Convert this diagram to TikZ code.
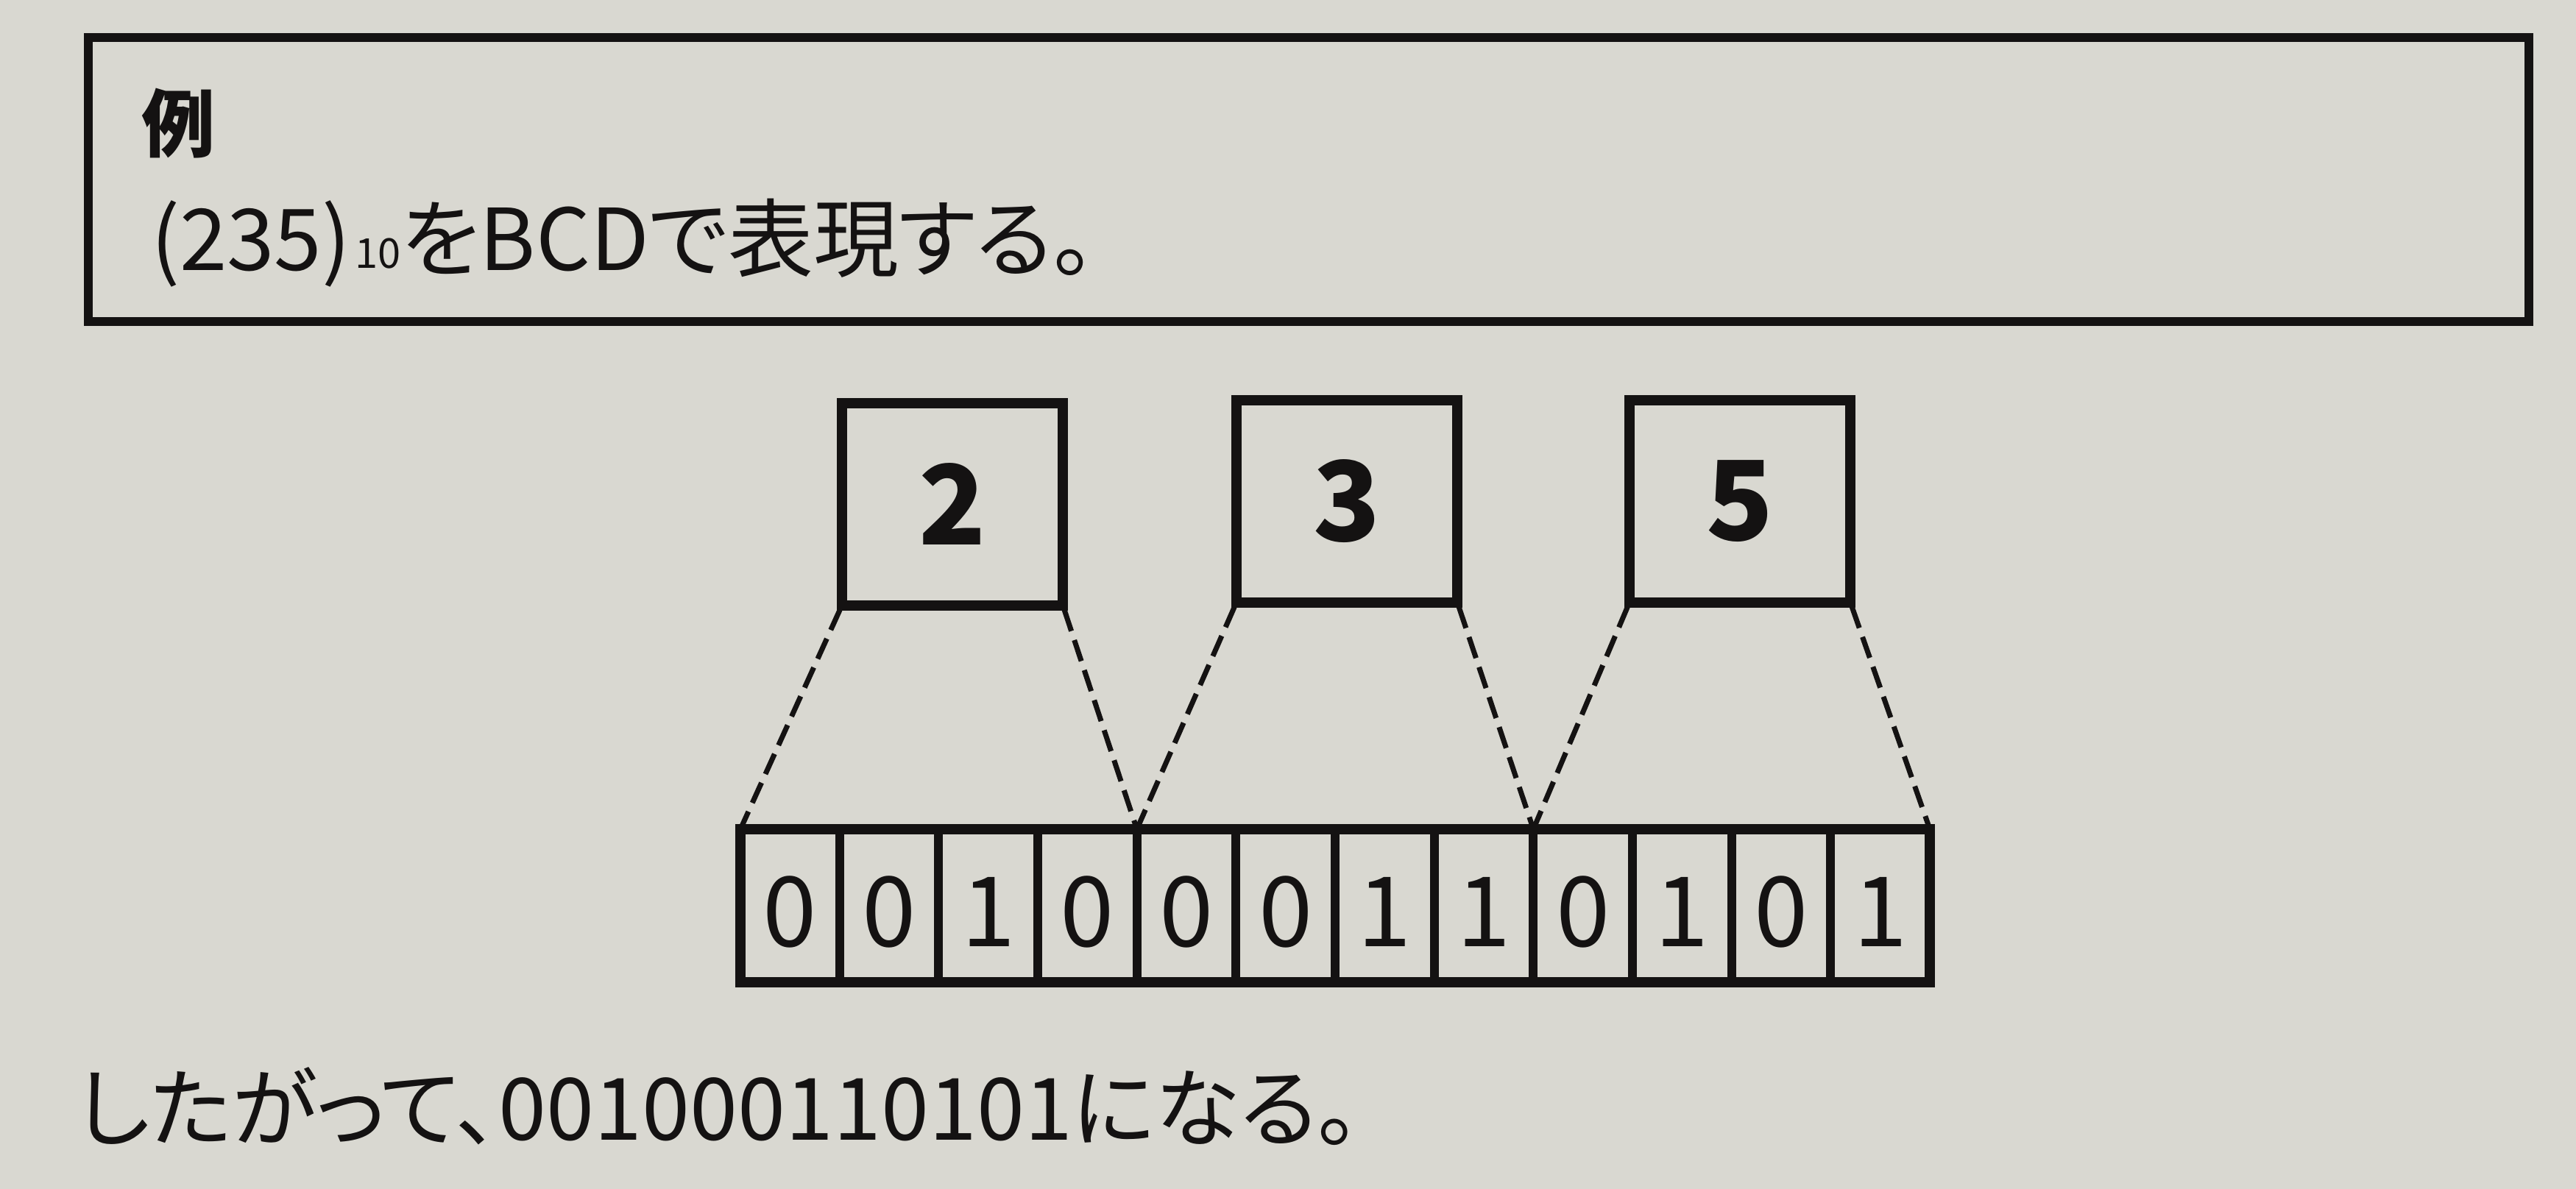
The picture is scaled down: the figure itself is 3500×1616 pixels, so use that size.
\documentclass[tikz,border=0pt]{standalone}
\usepackage{fontspec}
\setmainfont{Noto Sans CJK JP}
\newfontfamily\jpp[RawFeature=+palt]{Noto Sans CJK JP}
\definecolor{paper}{RGB}{217,216,209}
\definecolor{ink}{RGB}{20,18,18}
\tikzset{
  digitbox/.style={draw=ink, line width=14pt, minimum width=300pt, minimum height=275pt,
    inner sep=0pt, outer sep=0pt, text=ink, font=\fontsize{150}{150}\selectfont\bfseries},
  cell/.style={draw=ink, line width=12pt, minimum width=134.67pt, minimum height=208pt,
    inner sep=0pt, outer sep=0pt},
  bittext/.style={inner sep=0pt, text=ink, font=\fontsize{132}{132}\selectfont},
  dashlink/.style={draw=ink, line width=7pt, dash pattern=on 30pt off 13pt, shorten <=7pt},
  plain/.style={inner sep=0pt, outer sep=0pt, text=ink}
}
\begin{document}
\begin{tikzpicture}[x=1pt,y=-1pt]
\fill[paper] (0,0) rectangle (3500,1616);
\useasboundingbox (0,0) rectangle (3500,1616);
% example frame
\node[draw=ink, line width=12pt, minimum width=3316pt, minimum height=386pt, inner sep=0pt, outer sep=0pt] (frame) at (1778,244) {};
\node[plain, anchor=base west, font=\fontsize{100}{100}\selectfont\bfseries] (rei) at (192,206) {例};
\node[plain, anchor=base west, font=\fontsize{116}{116}\selectfont\jpp] (task) at (205,367)
  {(235)\hspace{6pt}\raisebox{3pt}{\fontsize{56}{56}\selectfont 10}をBCDで表現する。};
% decimal digit boxes
\node[digitbox] (b2) at (1294,685) {2};
\node[digitbox] (b3) at (1830,681) {3};
\node[digitbox] (b5) at (2364,681) {5};
% bit cells
\foreach \b [count=\i] in {0,0,1,0,0,0,1,1,0,1,0,1} {
  \node[cell] (c\i) at ({1006+134.67*(\i-0.5)},1231) {};
  \node[bittext, yshift=-8pt] (t\i) at (c\i) {\b};
}
\draw[ink, line width=14pt] (c1.north west) rectangle (c12.south east);
% dashed connectors
\draw[dashlink] (b2.south west) -- (c1.north west);
\draw[dashlink] (b2.south east) -- (c4.north east);
\draw[dashlink] (b3.south west) -- (c5.north west);
\draw[dashlink] (b3.south east) -- (c8.north east);
\draw[dashlink] (b5.south west) -- (c9.north west);
\draw[dashlink] (b5.south east) -- (c12.north east);
% result
\node[plain, anchor=base west, font=\fontsize{117}{117}\selectfont\jpp] (res) at (105,1549)
  {したがって、001000110101になる。};
\end{tikzpicture}
\end{document}
